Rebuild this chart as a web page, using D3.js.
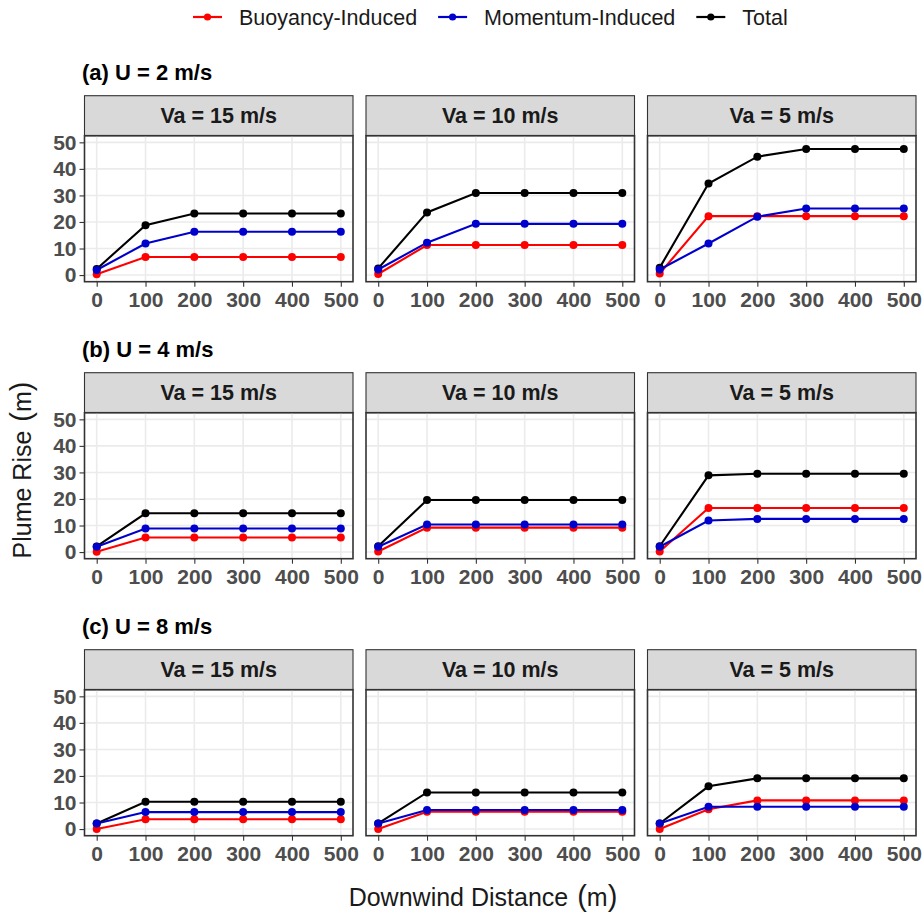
<!DOCTYPE html>
<html>
<head>
<meta charset="utf-8">
<script src="https://cdn.jsdelivr.net/npm/d3@7"></script>
<style>
  body { margin: 0; background: #fff; }
  svg { font-family: "Liberation Sans", Arial, Helvetica, sans-serif; }
  .grid line { stroke: #ebebeb; stroke-width: 1.6; }
  .axis path { display: none; }
  .axis line { stroke: #333; stroke-width: 1.1; }
  .axis text { fill: #4d4d4d; font-weight: bold; font-size: 21px; }
</style>
</head>
<body>
<script>

var distances = [0, 100, 200, 300, 400, 500];
var rowTitles = ["(a) U = 2 m/s", "(b) U = 4 m/s", "(c) U = 8 m/s"];
var colTitles = ["Va = 15 m/s", "Va = 10 m/s", "Va = 5 m/s"];
var yTicks = [0, 10, 20, 30, 40, 50];

// one array per panel, row by row (U = 2, 4, 8), columns Va = 15, 10, 5
var buoyancy = [
  [0.3, 6.8, 6.8, 6.8, 6.8, 6.8],
  [0.4, 11.3, 11.3, 11.3, 11.3, 11.3],
  [0.6, 22.2, 22.2, 22.2, 22.2, 22.2],
  [0.1, 5.5, 5.5, 5.5, 5.5, 5.5],
  [0.2, 9.2, 9.2, 9.2, 9.2, 9.2],
  [0.2, 16.6, 16.6, 16.6, 16.6, 16.6],
  [0.0, 3.7, 3.7, 3.7, 3.7, 3.7],
  [0.0, 6.5, 6.5, 6.5, 6.5, 6.5],
  [0.0, 7.5, 10.8, 10.8, 10.8, 10.8]
];
var momentum = [
  [1.9, 11.9, 16.3, 16.3, 16.3, 16.3],
  [2.1, 12.2, 19.3, 19.3, 19.3, 19.3],
  [2.1, 11.9, 22.0, 25.1, 25.1, 25.1],
  [2.0, 8.9, 8.9, 8.9, 8.9, 8.9],
  [2.0, 10.4, 10.4, 10.4, 10.4, 10.4],
  [2.0, 11.9, 12.5, 12.5, 12.5, 12.5],
  [2.1, 6.4, 6.4, 6.4, 6.4, 6.4],
  [2.1, 7.2, 7.2, 7.2, 7.2, 7.2],
  [2.1, 8.4, 8.4, 8.4, 8.4, 8.4]
];
var total = [
  [2.3, 18.8, 23.2, 23.2, 23.2, 23.2],
  [2.5, 23.6, 30.9, 30.9, 30.9, 30.9],
  [2.8, 34.5, 44.6, 47.5, 47.5, 47.5],
  [2.1, 14.6, 14.6, 14.6, 14.6, 14.6],
  [2.2, 19.6, 19.6, 19.6, 19.6, 19.6],
  [2.2, 28.9, 29.5, 29.5, 29.5, 29.5],
  [2.1, 10.3, 10.3, 10.3, 10.3, 10.3],
  [2.1, 13.8, 13.8, 13.8, 13.8, 13.8],
  [2.1, 16.1, 19.1, 19.1, 19.1, 19.1]
];

var seriesNames = ["Buoyancy-Induced", "Momentum-Induced", "Total"];
var seriesColors = ["#ff0000", "#0000cd", "#000000"];
var seriesData = [buoyancy, momentum, total];
// drawing order: total underneath, momentum on top
var drawOrder = [2, 0, 1];

var width = 924, height = 915;
var panelLeft = [84.5, 366, 647.5],
    panelW = 268.5,
    plotTop = [135.7, 412.7, 689.7],
    panelH = 146,
    stripH = 40;

var svg = d3.select("body").append("svg")
    .attr("width", width)
    .attr("height", height);

var x = d3.scaleLinear().domain([-25, 525]).range([0, panelW]);
var y = d3.scaleLinear().domain([-2.5, 52.5]).range([panelH, 0]);

var line = d3.line()
    .x(function(d) { return x(d[0]); })
    .y(function(d) { return y(d[1]); });

// Legend.
var legend = svg.append("g").attr("class", "legend");
var lx = 193;
seriesNames.forEach(function(name, i) {
  var g = legend.append("g").attr("transform", "translate(" + lx + ",17)");
  g.append("line")
      .attr("x1", 0).attr("x2", 29)
      .attr("stroke", seriesColors[i])
      .attr("stroke-width", 2.2);
  g.append("circle")
      .attr("cx", 14.5).attr("r", 3.6)
      .attr("fill", seriesColors[i]);
  var t = g.append("text")
      .attr("x", 46)
      .attr("dy", "0.35em")
      .style("font-size", "21.5px")
      .attr("fill", "#1a1a1a")
      .text(name);
  lx += 46 + t.node().getComputedTextLength() + 21;
});

rowTitles.forEach(function(title, r) {
  svg.append("text")
      .attr("x", 82)
      .attr("y", plotTop[r] - stripH - 16)
      .style("font-size", "22px")
      .style("font-weight", "bold")
      .text(title);

  colTitles.forEach(function(ct, c) {
    var k = r * 3 + c;
    var panel = svg.append("g")
        .attr("transform", "translate(" + panelLeft[c] + "," + plotTop[r] + ")");

    // strip
    panel.append("rect")
        .attr("x", 0).attr("y", -stripH)
        .attr("width", panelW).attr("height", stripH)
        .attr("fill", "#d9d9d9")
        .attr("stroke", "#333")
        .attr("stroke-width", 1.1);
    panel.append("text")
        .attr("x", panelW / 2)
        .attr("y", -stripH / 2)
        .attr("dy", "0.36em")
        .attr("text-anchor", "middle")
        .style("font-size", "21.5px")
        .style("font-weight", "bold")
        .attr("fill", "#1a1a1a")
        .text(ct);

    // grid
    var grid = panel.append("g").attr("class", "grid");
    grid.selectAll(".gx").data(distances).enter().append("line")
        .attr("x1", function(d) { return x(d); })
        .attr("x2", function(d) { return x(d); })
        .attr("y1", 0).attr("y2", panelH);
    grid.selectAll(".gy").data(yTicks).enter().append("line")
        .attr("y1", function(d) { return y(d); })
        .attr("y2", function(d) { return y(d); })
        .attr("x1", 0).attr("x2", panelW);

    // series
    drawOrder.forEach(function(s) {
      var pts = distances.map(function(d, i) { return [d, seriesData[s][k][i]]; });
      panel.append("path")
          .datum(pts)
          .attr("fill", "none")
          .attr("stroke", seriesColors[s])
          .attr("stroke-width", 2.1)
          .attr("d", line);
    });
    drawOrder.forEach(function(s) {
      var pts = distances.map(function(d, i) { return [d, seriesData[s][k][i]]; });
      panel.selectAll(null)
          .data(pts)
        .enter().append("circle")
          .attr("cx", function(d) { return x(d[0]); })
          .attr("cy", function(d) { return y(d[1]); })
          .attr("r", 4)
          .attr("fill", seriesColors[s]);
    });

    // border
    panel.append("rect")
        .attr("width", panelW).attr("height", panelH)
        .attr("fill", "none")
        .attr("stroke", "#333")
        .attr("stroke-width", 1.6);

    // axes
    panel.append("g")
        .attr("class", "axis")
        .attr("transform", "translate(0," + panelH + ")")
        .call(d3.axisBottom(x).tickValues(distances).tickSize(5).tickPadding(5));
    if (c === 0) {
      panel.append("g")
          .attr("class", "axis")
          .call(d3.axisLeft(y).tickValues(yTicks).tickSize(5).tickPadding(3));
    }
  });
});

// axis titles, with tall parentheses like the plotmath original
var xt = svg.append("text")
    .attr("x", 483)
    .attr("y", 906)
    .attr("text-anchor", "middle")
    .style("font-size", "25px")
    .attr("fill", "#1a1a1a");
xt.append("tspan").text("Downwind Distance ");
xt.append("tspan").style("font-size", "29px").attr("dx", 2).text("(");
xt.append("tspan").text("m");
xt.append("tspan").style("font-size", "29px").text(")");

var yt = svg.append("text")
    .attr("transform", "translate(31,470) rotate(-90)")
    .attr("text-anchor", "middle")
    .style("font-size", "25px")
    .attr("fill", "#1a1a1a");
yt.append("tspan").text("Plume Rise ");
yt.append("tspan").style("font-size", "29px").attr("dx", 2).text("(");
yt.append("tspan").text("m");
yt.append("tspan").style("font-size", "29px").text(")");

</script>
</body>
</html>
